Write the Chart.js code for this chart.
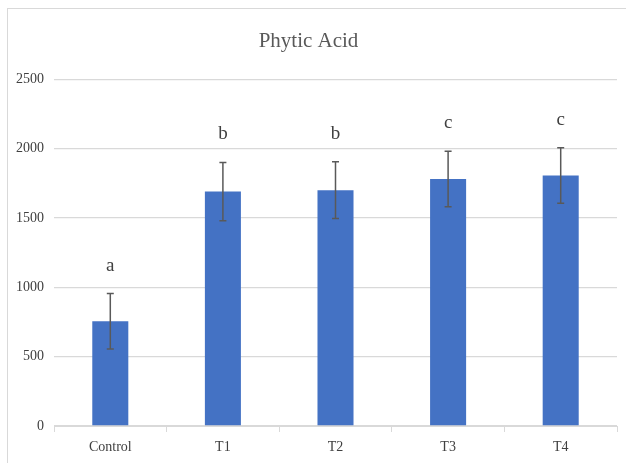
<!DOCTYPE html>
<html>
<head>
<meta charset="utf-8">
<script src="https://cdn.jsdelivr.net/npm/chart.js@4/dist/chart.umd.min.js"></script>
<style>
  html, body { margin: 0; padding: 0; background: #ffffff; }
  #wrap { position: relative; width: 626px; height: 463px; }
  #frame { position: absolute; left: 7px; top: 8px; width: 640px; height: 470px;
           border: 1px solid #d9d9d9; box-sizing: border-box; pointer-events: none; }
</style>
</head>
<body>
<div id="wrap">
  <canvas id="c" width="626" height="463"></canvas>
  <div id="frame"></div>
</div>
<script>
const categories = ["Control", "T1", "T2", "T3", "T4"];
const phyticAcid = [755, 1690, 1700, 1780, 1805];
const errors = [200, 210, 205, 200, 200];
const letters = ["a", "b", "b", "c", "c"];
const yTicks = [0, 500, 1000, 1500, 2000, 2500];

const errorBarPlugin = {
  id: "errorBars",
  afterDatasetsDraw(chart) {
    const ctx = chart.ctx;
    const meta = chart.getDatasetMeta(0);
    const y = chart.scales.y;
    ctx.save();
    meta.data.forEach((bar, i) => {
      const x = bar.x;
      const top = y.getPixelForValue(phyticAcid[i] + errors[i]);
      const bot = y.getPixelForValue(phyticAcid[i] - errors[i]);
      ctx.strokeStyle = "#595959";
      ctx.lineWidth = 1.5;
      ctx.beginPath();
      ctx.moveTo(x, top); ctx.lineTo(x, bot);
      ctx.moveTo(x - 3.5, top); ctx.lineTo(x + 3.5, top);
      ctx.moveTo(x - 3.5, bot); ctx.lineTo(x + 3.5, bot);
      ctx.stroke();
      ctx.fillStyle = "#404040";
      ctx.font = "19px 'Liberation Serif'";
      ctx.textAlign = "center";
      ctx.textBaseline = "middle";
      ctx.fillText(letters[i], x, top - 28);
    });
    ctx.restore();
  }
};

new Chart(document.getElementById("c"), {
  type: "bar",
  data: {
    labels: categories,
    datasets: [{
      data: phyticAcid,
      backgroundColor: "#4472C4",
      borderWidth: 0,
      categoryPercentage: 1.0,
      barPercentage: 0.32
    }]
  },
  options: {
    responsive: false,
    animation: false,
    devicePixelRatio: 1,
    layout: { padding: { left: 0, right: 9, top: 0, bottom: 0 } },
    plugins: {
      legend: { display: false },
      tooltip: { enabled: false },
      title: {
        display: true,
        text: "Phytic Acid",
        color: "#595959",
        font: { family: "'Liberation Serif'", size: 21, weight: "normal" },
        padding: { top: 29, bottom: 25 }
      }
    },
    scales: {
      x: {
        grid: { offset: true, drawOnChartArea: false, drawTicks: true, tickLength: 6, color: "#d9d9d9" },
        border: { display: true, color: "#d9d9d9", width: 1 },
        ticks: { color: "#404040", padding: 7, font: { family: "'Liberation Serif'", size: 14 } },
        afterFit(scale) { scale.height = 37; }
      },
      y: {
        min: 0, max: 2500,
        afterBuildTicks(scale) { scale.ticks = yTicks.map(v => ({ value: v })); },
        grid: { color: "#d9d9d9", drawTicks: false, lineWidth: 1.3 },
        border: { display: false },
        ticks: {
          color: "#404040", padding: 10,
          font: { family: "'Liberation Serif'", size: 14 },
          callback: (v) => String(v)
        },
        afterFit(scale) { scale.width = 54; }
      }
    }
  },
  plugins: [errorBarPlugin]
});
</script>
</body>
</html>
